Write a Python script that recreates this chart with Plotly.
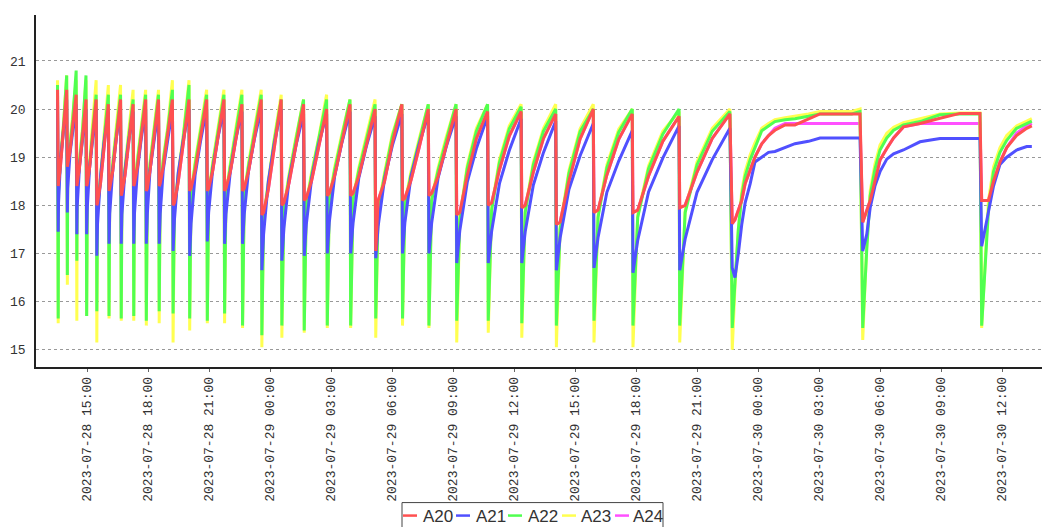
import pandas as pd
import plotly.graph_objects as go

# sample times, minutes after 2023-07-28 00:00 (shared by all channels)
minutes = [
    813, 815, 816, 822, 831,
    840, 842, 843, 850, 858,
    868, 870, 871, 878, 887,
    897, 899, 901, 908, 917,
    927, 929, 931, 940, 950,
    963, 965, 967, 976, 986,
    999, 1001, 1003, 1012, 1023,
    1036, 1038, 1040, 1049, 1060,
    1073, 1075, 1078, 1086, 1098,
    1111, 1113, 1116, 1125, 1138,
    1152, 1154, 1158, 1169, 1184,
    1201, 1203, 1207, 1219, 1235,
    1253, 1255, 1259, 1271, 1286,
    1304, 1306, 1310, 1323, 1338,
    1357, 1359, 1364, 1377, 1394,
    1414, 1416, 1421, 1435, 1452,
    1473, 1475, 1481, 1496, 1516,
    1539, 1541, 1547, 1563, 1583,
    1607, 1609, 1615, 1631, 1652,
    1676, 1678, 1685, 1702, 1724,
    1750, 1752, 1759, 1778, 1801,
    1829, 1831, 1838, 1856, 1880,
    1907, 1909, 1917, 1936, 1960,
    1989, 1991, 2000, 2022, 2049,
    2082, 2084, 2094, 2117, 2146,
    2181, 2183, 2193, 2217, 2247,
    2283, 2285, 2296, 2322, 2355,
    2394, 2396, 2408, 2434, 2469,
    2509, 2511, 2525, 2557, 2599,
    2647, 2649, 2665, 2700, 2745,
    2797, 2804, 2812, 2822, 2832, 2842, 2857, 2871, 2891, 2911, 2930, 2960, 2989, 3029, 3063, 3107, 3157,
    3181, 3189, 3201, 3211, 3225, 3240, 3260, 3280, 3309, 3358, 3417, 3476,
    3535, 3540, 3560, 3575, 3594, 3614, 3643, 3673, 3688,
]

a20 = [
    20.4, 18.4, 18.45, 18.84, 19.56,
    20.4, 18.8, 18.85, 19.13, 19.67,
    20.3, 18.4, 18.45, 18.8, 19.44,
    20.2, 18.4, 18.45, 18.8, 19.44,
    20.2, 18.0, 18.05, 18.46, 19.22,
    20.1, 18.3, 18.35, 18.72, 19.4,
    20.2, 18.2, 18.25, 18.62, 19.3,
    20.1, 18.4, 18.45, 18.8, 19.44,
    20.2, 18.3, 18.35, 18.72, 19.4,
    20.2, 18.4, 18.45, 18.8, 19.44,
    20.2, 18.0, 18.05, 18.48, 19.28,
    20.2, 18.3, 18.35, 18.72, 19.4,
    20.2, 18.3, 18.35, 18.72, 19.4,
    20.2, 18.3, 18.35, 18.7, 19.34,
    20.1, 18.3, 18.35, 18.72, 19.4,
    20.2, 17.8, 17.85, 18.33, 19.19,
    20.2, 18.0, 18.05, 18.46, 19.22,
    20.1, 18.1, 18.15, 18.52, 19.2,
    20.0, 18.2, 18.25, 18.62, 19.3,
    20.1, 18.2, 18.25, 18.6, 19.24,
    20.0, 17.05, 18.1, 18.5, 19.3,
    20.1, 18.1, 18.15, 18.52, 19.2,
    20.0, 18.2, 18.25, 18.6, 19.24,
    20.0, 17.8, 17.85, 18.62, 19.39,
    19.95, 18.0, 18.05, 18.74, 19.44,
    19.95, 17.95, 18.0, 18.69, 19.39,
    19.9, 17.6, 17.65, 18.51, 19.38,
    20.0, 17.85, 17.9, 18.63, 19.37,
    19.9, 17.85, 17.9, 18.61, 19.33,
    19.85, 17.95, 18.0, 18.69, 19.39,
    19.9, 17.62, 17.7, 17.9, 18.1, 18.45, 18.73, 19.0, 19.28, 19.45, 19.56, 19.67, 19.67, 19.8, 19.9, 19.9, 19.9,
    19.9, 17.65, 17.9, 18.1, 18.5, 18.94, 19.18, 19.4, 19.63, 19.7, 19.81, 19.91,
    19.91, 18.1, 18.1, 18.5, 18.9, 19.2, 19.45, 19.6, 19.65,
]

a21 = [
    20.2, 17.45, 18.06, 18.96, 19.6,
    20.2, 17.85, 18.35, 19.09, 19.6,
    20.1, 17.4, 17.97, 18.83, 19.43,
    20.0, 17.4, 17.97, 18.83, 19.43,
    20.0, 16.95, 17.61, 18.6, 19.29,
    19.95, 17.2, 17.82, 18.74, 19.38,
    20.0, 17.2, 17.81, 18.71, 19.35,
    19.95, 17.2, 17.82, 18.74, 19.38,
    20.0, 17.2, 17.82, 18.74, 19.38,
    20.0, 17.2, 17.82, 18.74, 19.38,
    20.0, 17.05, 17.7, 18.67, 19.35,
    20.0, 16.95, 17.62, 18.63, 19.33,
    20.0, 17.25, 17.86, 18.76, 19.4,
    20.0, 17.2, 17.81, 18.71, 19.35,
    19.95, 17.2, 17.82, 18.74, 19.38,
    20.0, 16.65, 17.39, 18.49, 19.26,
    20.0, 16.85, 17.52, 18.53, 19.23,
    19.9, 16.95, 17.6, 18.57, 19.25,
    19.9, 17.0, 17.65, 18.62, 19.3,
    19.95, 17.0, 17.63, 18.57, 19.22,
    19.85, 16.9, 17.56, 18.55, 19.24,
    19.9, 17.0, 17.64, 18.6, 19.26,
    19.9, 17.0, 17.63, 18.57, 19.22,
    19.85, 16.8, 17.47, 18.48, 19.18,
    19.85, 16.8, 17.46, 18.45, 19.14,
    19.8, 16.8, 17.45, 18.42, 19.1,
    19.75, 16.65, 17.32, 18.33, 19.03,
    19.7, 16.7, 17.33, 18.27, 18.92,
    19.55, 16.6, 17.27, 18.28, 18.98,
    19.65, 16.65, 17.3, 18.27, 18.95,
    19.6, 16.7, 16.5, 17.0, 17.6, 18.05, 18.45, 18.9, 19.0, 19.1, 19.12, 19.2, 19.28, 19.33, 19.4, 19.4, 19.4,
    19.4, 17.05, 17.4, 17.95, 18.4, 18.7, 18.96, 19.07, 19.15, 19.32, 19.39, 19.39,
    19.39, 17.15, 17.9, 18.4, 18.85, 19.0, 19.15, 19.22, 19.22,
]

a22 = [
    20.5, 15.65, 18.3, 18.96, 19.68,
    20.7, 16.55, 18.7, 19.25, 19.79,
    20.8, 16.85, 18.3, 18.92, 19.56,
    20.7, 15.7, 18.3, 18.92, 19.56,
    20.3, 15.8, 17.9, 18.58, 19.34,
    20.3, 15.7, 18.2, 18.84, 19.52,
    20.3, 15.65, 18.1, 18.74, 19.42,
    20.2, 15.7, 18.3, 18.92, 19.56,
    20.3, 15.6, 18.2, 18.84, 19.52,
    20.3, 15.8, 18.3, 18.92, 19.56,
    20.4, 15.75, 17.9, 18.6, 19.4,
    20.5, 15.65, 18.2, 18.84, 19.52,
    20.3, 15.6, 18.2, 18.84, 19.52,
    20.3, 15.75, 18.2, 18.82, 19.46,
    20.3, 15.5, 18.2, 18.84, 19.52,
    20.3, 15.3, 17.7, 18.45, 19.31,
    20.2, 15.5, 17.9, 18.58, 19.34,
    20.2, 15.4, 18.0, 18.64, 19.32,
    20.2, 15.5, 18.1, 18.74, 19.42,
    20.2, 15.5, 18.1, 18.72, 19.36,
    20.1, 15.65, 17.9, 18.62, 19.42,
    20.1, 15.65, 18.0, 18.64, 19.32,
    20.1, 15.5, 18.1, 18.72, 19.36,
    20.1, 15.6, 17.7, 18.77, 19.54,
    20.1, 15.6, 17.9, 18.89, 19.59,
    20.05, 15.55, 17.85, 18.84, 19.54,
    20.0, 15.5, 17.5, 18.66, 19.53,
    20.0, 15.6, 17.75, 18.78, 19.52,
    20.0, 15.5, 17.75, 18.76, 19.48,
    20.0, 15.5, 17.85, 18.84, 19.54,
    19.95, 15.45, 16.4, 17.5, 18.2, 18.6, 18.95, 19.2, 19.55, 19.65, 19.74, 19.78, 19.8, 19.85, 19.9, 19.9, 19.9,
    19.95, 15.45, 17.1, 18.2, 18.75, 19.15, 19.4, 19.56, 19.67, 19.74, 19.88, 19.9,
    19.9, 15.5, 17.9, 18.7, 19.1, 19.35, 19.6, 19.7, 19.75,
]

a23 = [
    20.6, 15.55, 18.35, 19.02, 19.74,
    20.7, 16.35, 18.75, 19.31, 19.85,
    20.6, 15.6, 18.35, 18.98, 19.62,
    20.6, 15.7, 18.35, 18.98, 19.62,
    20.6, 15.15, 17.95, 18.64, 19.4,
    20.5, 15.65, 18.25, 18.9, 19.58,
    20.5, 15.6, 18.15, 18.8, 19.48,
    20.4, 15.6, 18.35, 18.98, 19.62,
    20.4, 15.5, 18.25, 18.9, 19.58,
    20.4, 15.55, 18.35, 18.98, 19.62,
    20.6, 15.15, 17.95, 18.66, 19.46,
    20.6, 15.4, 18.25, 18.9, 19.58,
    20.4, 15.55, 18.25, 18.9, 19.58,
    20.4, 15.55, 18.25, 18.88, 19.52,
    20.4, 15.45, 18.25, 18.9, 19.58,
    20.4, 15.05, 17.75, 18.51, 19.37,
    20.3, 15.25, 17.95, 18.64, 19.4,
    20.2, 15.35, 18.05, 18.7, 19.38,
    20.3, 15.45, 18.15, 18.8, 19.48,
    20.2, 15.45, 18.15, 18.78, 19.42,
    20.2, 15.25, 17.95, 18.68, 19.48,
    20.1, 15.5, 18.05, 18.7, 19.38,
    20.1, 15.45, 18.15, 18.78, 19.42,
    20.1, 15.15, 17.75, 18.83, 19.6,
    20.1, 15.35, 17.95, 18.95, 19.65,
    20.1, 15.25, 17.9, 18.9, 19.6,
    20.1, 15.05, 17.55, 18.72, 19.59,
    20.1, 15.15, 17.8, 18.84, 19.58,
    20.0, 15.05, 17.8, 18.82, 19.54,
    19.95, 15.15, 17.9, 18.9, 19.6,
    20.0, 15.0, 16.3, 17.5, 18.3, 18.7, 19.05, 19.3, 19.6, 19.7, 19.78, 19.82, 19.85, 19.9, 19.95, 19.95, 19.95,
    20.0, 15.2, 17.2, 18.3, 18.85, 19.25, 19.5, 19.62, 19.72, 19.8, 19.9, 19.92,
    19.92, 15.45, 18.1, 18.8, 19.2, 19.45, 19.65, 19.75, 19.8,
]

a24 = [
    20.4, 18.4, 18.45, 18.84, 19.56,
    20.4, 18.8, 18.85, 19.13, 19.67,
    20.3, 18.4, 18.45, 18.8, 19.44,
    20.2, 18.4, 18.45, 18.8, 19.44,
    20.2, 18.0, 18.05, 18.46, 19.22,
    20.1, 18.3, 18.35, 18.72, 19.4,
    20.2, 18.2, 18.25, 18.62, 19.3,
    20.1, 18.4, 18.45, 18.8, 19.44,
    20.2, 18.3, 18.35, 18.72, 19.4,
    20.2, 18.4, 18.45, 18.8, 19.44,
    20.2, 18.0, 18.05, 18.48, 19.28,
    20.2, 18.3, 18.35, 18.72, 19.4,
    20.2, 18.3, 18.35, 18.72, 19.4,
    20.2, 18.3, 18.35, 18.7, 19.34,
    20.1, 18.3, 18.35, 18.72, 19.4,
    20.2, 17.8, 17.85, 18.33, 19.19,
    20.2, 18.0, 18.05, 18.46, 19.22,
    20.1, 18.1, 18.15, 18.52, 19.2,
    20.0, 18.2, 18.25, 18.62, 19.3,
    20.1, 18.2, 18.25, 18.6, 19.24,
    20.0, 17.05, 18.1, 18.5, 19.3,
    20.1, 18.1, 18.15, 18.52, 19.2,
    20.0, 18.2, 18.25, 18.6, 19.24,
    20.0, 17.8, 17.85, 18.62, 19.39,
    19.95, 18.0, 18.05, 18.74, 19.44,
    19.95, 17.95, 18.0, 18.69, 19.39,
    19.9, 17.6, 17.65, 18.51, 19.38,
    20.0, 17.85, 17.9, 18.63, 19.37,
    19.9, 17.85, 17.9, 18.61, 19.33,
    19.85, 17.95, 18.0, 18.69, 19.39,
    19.9, 17.62, 17.7, 17.9, 18.1, 18.45, 18.73, 19.0, 19.28, 19.45, 19.6, 19.7, 19.7, 19.7, 19.7, 19.7, 19.7,
    19.7, 17.65, 17.9, 18.1, 18.5, 18.94, 19.18, 19.4, 19.63, 19.7, 19.7, 19.7,
    19.7, 18.1, 18.1, 18.5, 18.9, 19.2, 19.5, 19.65, 19.7,
]

series_names = ["A20", "A21", "A22", "A23", "A24"]
series_values = [a20, a21, a22, a23, a24]
y_ticks = [15, 16, 17, 18, 19, 20, 21]

colors = ["#ff5050", "#5050ff", "#50ff50", "#ffff50", "#ff50ff"]

base = pd.Timestamp("2023-07-28 00:00")
times = base + pd.to_timedelta(minutes, unit="min")

fig = go.Figure()
# draw A24 first so A20 ends on top
for name, vals, col in reversed(list(zip(series_names, series_values, colors))):
    fig.add_trace(go.Scatter(x=times, y=vals, mode="lines", name=name,
                             line=dict(color=col, width=3),
                             showlegend=False))

# plot-area geometry in pixels
L, T, W, H = 36, 15, 1006, 352.3
def px2x(px):
    return (px - L) / W
def py2y(py):
    return (T + H - py) / H

shapes = [dict(type="rect", xref="paper", yref="paper",
               x0=px2x(402), x1=px2x(663), y0=py2y(540), y1=py2y(503),
               line=dict(color="#444", width=1), fillcolor="white", layer="above")]
annotations = []
leg_lines = [403, 456, 508, 562, 615]
leg_texts = [421, 474, 526, 579, 631]
for name, col, lx, tx in zip(series_names, colors, leg_lines, leg_texts):
    shapes.append(dict(type="line", xref="paper", yref="paper",
                       x0=px2x(lx), x1=px2x(lx + 14), y0=py2y(516), y1=py2y(516),
                       line=dict(color=col, width=2.5), layer="above"))
    annotations.append(dict(text=name, xref="paper", yref="paper",
                            x=px2x(tx), y=py2y(516.5), xanchor="left", yanchor="middle",
                            showarrow=False,
                            font=dict(family="Liberation Sans", size=17, color="#333")))

fig.update_layout(
    width=1042, height=527,
    margin=dict(l=L, r=0, t=T, b=527 - T - H),
    paper_bgcolor="white", plot_bgcolor="white",
    showlegend=False,
    shapes=shapes, annotations=annotations,
    xaxis=dict(
        type="date",
        range=["2023-07-28 12:29:30", "2023-07-30 13:58:00"],
        tick0="2023-07-28 00:00", dtick=3 * 3600 * 1000,
        tickformat="%Y-%m-%d %H:%M", tickangle=-90,
        tickfont=dict(family="Liberation Mono", size=13, color="#333"),
        showgrid=False, zeroline=False,
        showline=True, linecolor="#222", linewidth=1.5,
        ticks="outside", ticklen=3, tickcolor="#666",
    ),
    yaxis=dict(
        range=[14.64, 21.955],
        tickvals=y_ticks,
        tickfont=dict(family="Liberation Mono", size=13, color="#333"),
        showgrid=True, gridcolor="#999", griddash="dot", gridwidth=1,
        zeroline=False, showline=True, linecolor="#222", linewidth=1.5,
        ticks="", ticklabelstandoff=6,
    ),
)

fig.write_html("out.html")
